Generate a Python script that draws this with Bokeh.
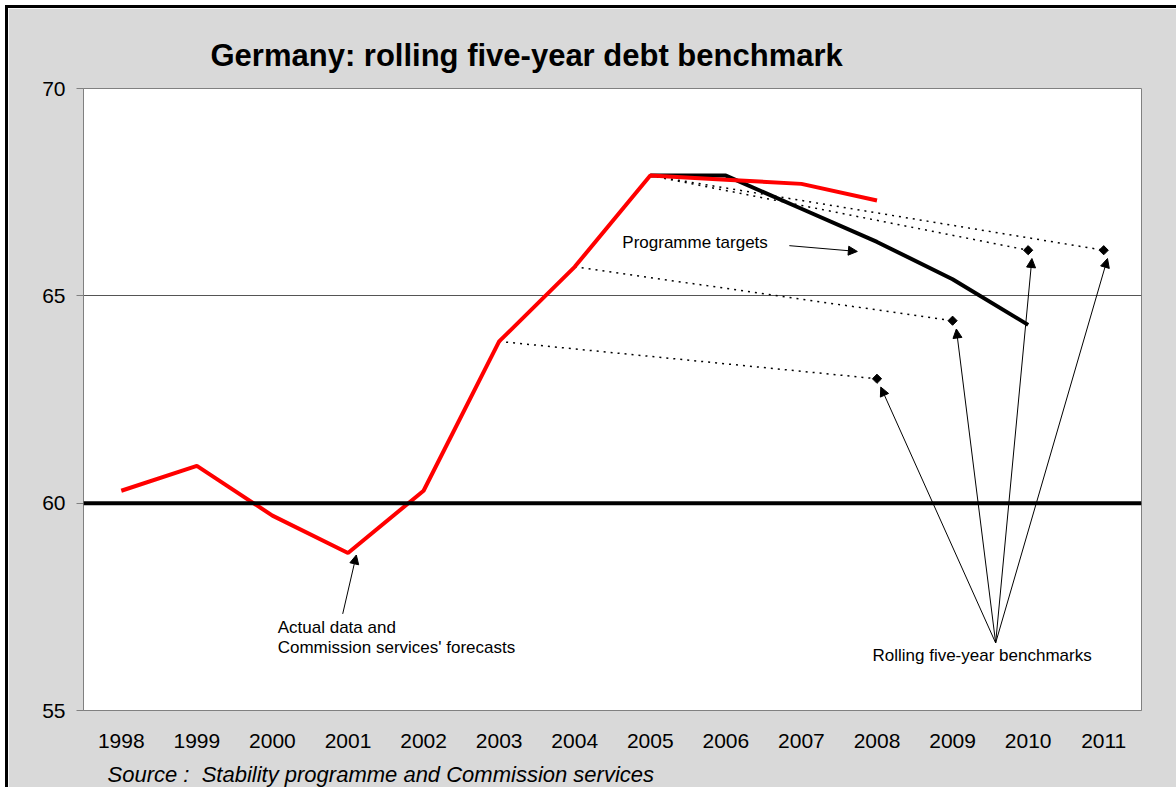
from bokeh.plotting import figure
from bokeh.models import (Span, Label, Arrow, NormalHead, Title,
                          FixedTicker, Range1d)
from bokeh.embed import file_html
from bokeh.resources import INLINE

# ---------------- data ----------------
tick_years = [1998, 1999, 2000, 2001, 2002, 2003, 2004, 2005, 2006, 2007, 2008, 2009, 2010, 2011]
actual_years = [1998, 1999, 2000, 2001, 2002, 2003, 2004, 2005, 2006, 2007, 2008]
actual_values = [60.3, 60.9, 59.7, 58.8, 60.3, 63.9, 65.7, 67.9, 67.8, 67.7, 67.3]
programme_years = [2005, 2006, 2007, 2008, 2009, 2010]
programme_values = [67.9, 67.9, 67.1, 66.3, 65.4, 64.3]
bench_years = [2008, 2009, 2010, 2011]
bench_values = [63.0, 64.4, 66.1, 66.1]
bench_start_years = [2003, 2004, 2005, 2005]
bench_start_values = [actual_values[actual_years.index(y)] for y in bench_start_years]
y_ticks = [55, 60, 65, 70]
reference_level = 60

FONT = "Liberation Sans"
GRAY = "#d9d9d9"

p = figure(width=1171, height=788, output_backend="svg", toolbar_location=None,
           x_range=Range1d(1997.5, 2011.5), y_range=Range1d(55, 70),
           min_border_left=75, min_border_right=38, min_border_top=80, min_border_bottom=75,
           border_fill_color=GRAY, background_fill_color="white",
           outline_line_color="#808080", margin=(5, 0, 0, 5),
           styles={"border-left": "3px solid black", "border-top": "3px solid black"})

# title
p.title.text = "Germany: rolling five-year debt benchmark"
p.title.text_font = FONT
p.title.text_font_size = "31px"
p.title.text_font_style = "bold"
p.title.text_color = "black"
p.title.align = "left"
p.title.offset = 127
p.title.standoff = 32

# axes
p.xaxis.ticker = FixedTicker(ticks=tick_years)
p.yaxis.ticker = FixedTicker(ticks=y_ticks)
for ax in (p.xaxis, p.yaxis):
    ax.axis_line_color = "#808080"
    ax.major_label_text_font = FONT
    ax.major_label_text_font_size = "21px"
    ax.major_label_text_color = "black"
    ax.minor_tick_line_color = None
p.xaxis.major_tick_line_color = None
p.xaxis.major_tick_out = 0
p.xaxis.major_label_standoff = 23
p.yaxis.major_tick_line_color = "#808080"
p.yaxis.major_tick_out = 7
p.yaxis.major_tick_in = 0
p.yaxis.major_label_standoff = 11

p.xgrid.grid_line_color = None
p.ygrid.grid_line_color = "#555555"
p.ygrid.grid_line_width = 1

# source note below the axis
p.add_layout(Title(text="Source :\u00a0 Stability programme and Commission services",
                   text_font=FONT, text_font_size="22px", text_font_style="italic",
                   text_color="black", align="left", offset=24, standoff=19), "below")

# 60% reference line
p.add_layout(Span(location=reference_level, dimension="width",
                  line_color="black", line_width=4))

# dotted benchmark lines
for sx, sy, ex, ey in zip(bench_start_years, bench_start_values, bench_years, bench_values):
    p.line([sx, ex], [sy, ey], line_color="black", line_width=1.5, line_dash="2 5")

# programme targets
p.line(programme_years, programme_values, line_color="black", line_width=4)
# actual data
p.line(actual_years, actual_values, line_color="#ff0000", line_width=4)

# benchmark diamonds
p.scatter(bench_years, bench_values, marker="square", size=6.5, angle=0.785,
          fill_color="black", line_color="black")

# annotation arrows
def arrow(x0, y0, x1, y1):
    p.add_layout(Arrow(end=NormalHead(size=9, fill_color="black", line_color="black"),
                       x_start=x0, y_start=y0, x_end=x1, y_end=y1,
                       line_color="black", line_width=1))

apex = (2009.57, 56.63)
for bx, bv in zip(bench_years, bench_values):
    arrow(apex[0], apex[1], bx + 0.05, bv - 0.2)
arrow(2006.84, 66.21, 2007.74, 66.07)
arrow(2000.93, 57.33, 2001.11, 58.75)

def label(x, y, text, size="17px"):
    p.add_layout(Label(x=x, y=y, text=text, text_font=FONT, text_font_size=size,
                       text_baseline="middle", text_align="left", text_color="black"))

label(2004.63, 66.28, "Programme targets")
label(2000.07, 56.99, "Actual data and")
label(2000.07, 56.51, "Commission services' forecasts")
label(2007.94, 56.32, "Rolling five-year benchmarks")

open("out.html", "w").write(file_html(p, INLINE))
